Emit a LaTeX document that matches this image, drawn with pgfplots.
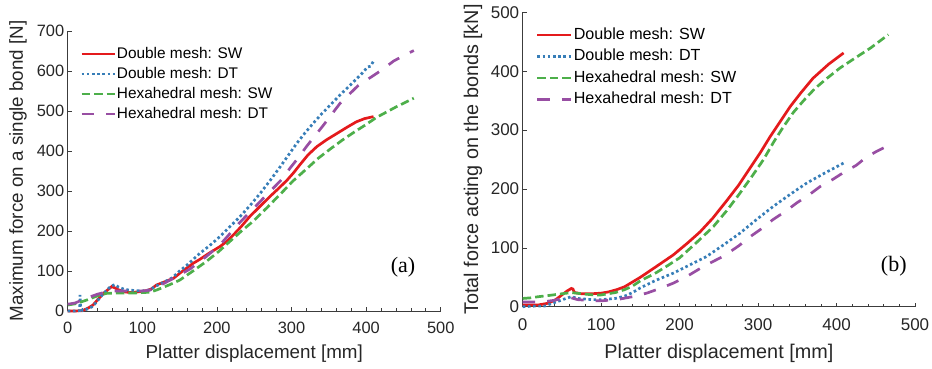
\documentclass[border=0pt]{standalone}
\usepackage{pgfplots}
\pgfplotsset{compat=1.18}
\usepackage{fontspec}
\setmainfont{Liberation Sans}
\newfontfamily\timesf{Liberation Serif}
\definecolor{cA}{RGB}{228,26,28}
\definecolor{cB}{RGB}{55,126,184}
\definecolor{cC}{RGB}{77,175,74}
\definecolor{cD}{RGB}{152,78,163}
\definecolor{axc}{RGB}{60,60,60}
\definecolor{txc}{RGB}{38,38,38}
\pgfplotsset{
  common/.style={
    scale only axis, anchor=south west,
    xmin=0, xmax=500, ymin=0,
    axis x line=bottom, axis y line=left,
    axis line style={-, axc, line width=0.7pt},
    tick align=inside,
    xtick={0,100,...,500}, minor x tick num=4,
    major tick length=4pt, minor tick length=3pt,
    every tick/.style={axc, line width=0.6pt},
    /pgf/number format/assume math mode=true,
    xticklabel style={yshift=-8pt},
    every axis label/.append style={text=txc},
    ticklabel style={text=txc},
    xlabel={Platter displacement [mm]},
    legend cell align=left,
    legend image code/.code={\draw[#1] (0pt,0pt) -- (33pt,0pt);},
    clip=false,
  },
  sA/.style={cA, line width=2.7pt},
  sB/.style={cB, line width=2.7pt, dash pattern=on 2.6pt off 2.6pt},
  sC/.style={cC, line width=2.7pt, dash pattern=on 8.5pt off 4pt},
  sD/.style={cD, line width=2.7pt, dash pattern=on 12.5pt off 12pt},
}
\begin{document}
\begin{tikzpicture}[x=1pt,y=1pt]
\useasboundingbox (0,0) rectangle (932,369);
\begin{axis}[common,
  at={(67.7pt,58pt)}, width=373pt, height=280pt,
  ymax=700, ytick={0,100,...,700},
  ticklabel style={font=\fontsize{16.4}{18}\selectfont},
  label style={font=\fontsize{18.8}{22}\selectfont},
  xlabel style={at={(axis description cs:0.5,-0.154)}, anchor=center},
  ylabel style={at={(axis description cs:-0.133,0.5)}, anchor=center},
  ylabel={Maximum force on a single bond [N]},
  legend style={draw=none, fill=none, at={(axis description cs:0.025,0.954)}, anchor=north west,
    font=\fontsize{15.4}{18}\selectfont, row sep=4pt,
    nodes={inner sep=1pt, text height=11pt, text depth=3pt}},
]
\addplot[sA] coordinates {(0,0)(10,0)(20,1)(28,8)(34,15)(41,30)(48,44)(55,55)(59,61)(63,58)(68,53)(76,48)(84,46)(95,48)(106,51)(112,55)(119,65)(130,73)(142,82)(150,94)(160,108)(168,119)(177,129)(190,145)(204,161)(214,175)(222,190)(233,212)(244,236)(258,262)(271,286)(283,307)(294,327)(303,346)(311,365)(322,390)(334,411)(347,428)(361,444)(375,460)(387,473)(398,481)(410,486)};
\addlegendentry{Double mesh: SW}
\addplot[sB] coordinates {(0,0)(10,0)(16,1)(16.5,40)(17.5,8)(20,1)(28,6)(34,12)(41,28)(48,44)(58,62)(63,66)(68,60)(76,54)(84,52)(100,50)(110,53)(120,64)(130,73)(140,83)(150,100)(160,115)(177,144)(190,163)(204,186)(217,210)(231,236)(245,265)(258,294)(272,328)(285,361)(296,390)(307,419)(318,445)(329,469)(340,492)(352,515)(365,540)(380,567)(395,595)(402,610)(406,612)(410,625)};
\addlegendentry{Double mesh: DT}
\addplot[sC] coordinates {(0,15)(10,18)(25,27)(40,38)(52,44)(70,45)(90,45)(110,47)(120,53)(137,66)(150,77)(168,100)(186,124)(202,148)(218,175)(233,200)(249,225)(267,258)(285,292)(302,325)(320,355)(336,382)(352,405)(368,427)(383,446)(399,465)(414,484)(440,510)(464,532)};
\addlegendentry{Hexahedral mesh: SW}
\addplot[sD] coordinates {(0,17)(10,20)(25,32)(40,42)(48,46)(60,50)(80,50)(100,50)(110,52)(120,60)(140,80)(164,105)(185,135)(204,165)(231,222)(250,258)(268,293)(285,325)(298,357)(310,385)(320,411)(343,465)(365,519)(389,563)(419,600)(437,625)(457,645)(464,651)};
\addlegendentry{Hexahedral mesh: DT}
\node[font=\timesf\fontsize{22}{24}\selectfont, text=black] at (axis description cs:0.899,0.157) {(a)};
\end{axis}
\begin{axis}[common,
  at={(522.7pt,62.3pt)}, width=392.3pt, height=294.4pt,
  ymax=500, ytick={0,100,...,500},
  ticklabel style={font=\fontsize{17}{19}\selectfont},
  label style={font=\fontsize{19.8}{23}\selectfont},
  xlabel style={at={(axis description cs:0.5,-0.157)}, anchor=center},
  ylabel style={at={(axis description cs:-0.127,0.5)}, anchor=center},
  ylabel={Total force acting on the bonds [kN]},
  legend image code/.code={\draw[#1] (0pt,0pt) -- (34pt,0pt);},
  legend style={draw=none, fill=none, at={(axis description cs:0.026,0.959)}, anchor=north west,
    font=\fontsize{16.1}{19}\selectfont, row sep=4.5pt,
    nodes={inner sep=1pt, text height=11.5pt, text depth=3.5pt}},
]
\addplot[sA] coordinates {(0,3)(10,3)(20,3)(33,6)(42,12)(50,20)(57,27)(62,31)(64,30)(66,24)(75,22)(88,22)(100,23)(109,25)(120,29)(130,34)(150,50)(170,68)(192,88)(210,108)(226,127)(242,150)(260,180)(275,206)(290,236)(303,262)(315,288)(328,314)(341,340)(355,364)(370,388)(390,412)(409,431)};
\addlegendentry{Double mesh: SW}
\addplot[sB] coordinates {(0,0)(15,1)(28,1)(36,5)(45,9)(55,14)(62,17)(70,14)(88,12)(100,12)(118,14)(130,18)(140,24)(150,32)(170,45)(192,57)(210,69)(234,85)(256,105)(277,125)(298,148)(319,170)(340,190)(362,210)(385,227)(409,244)};
\addlegendentry{Double mesh: DT}
\addplot[sC] coordinates {(0,14)(10,15)(20,17)(33,19)(50,22)(62,24)(75,22)(90,20)(100,20)(118,24)(130,29)(140,35)(150,44)(168,56)(185,70)(200,83)(220,107)(243,136)(260,163)(277,193)(292,221)(307,250)(320,280)(332,305)(345,330)(358,350)(372,370)(387,387)(404,405)(421,420)(444,440)(466,462)};
\addlegendentry{Hexahedral mesh: SW}
\addplot[sD] coordinates {(0,8)(17,8)(30,9)(41,11)(50,14)(62,15)(70,12)(90,10)(100,10)(120,12)(140,17)(158,23)(175,31)(192,40)(210,52)(230,68)(256,86)(275,103)(290,119)(305,133)(319,148)(335,162)(349,176)(365,190)(379,204)(395,216)(409,228)(425,240)(438,254)(450,263)(465,273)};
\addlegendentry{Hexahedral mesh: DT}
\node[font=\timesf\fontsize{22}{24}\selectfont, text=black] at (axis description cs:0.946,0.136) {(b)};
\end{axis}
\end{tikzpicture}
\end{document}
